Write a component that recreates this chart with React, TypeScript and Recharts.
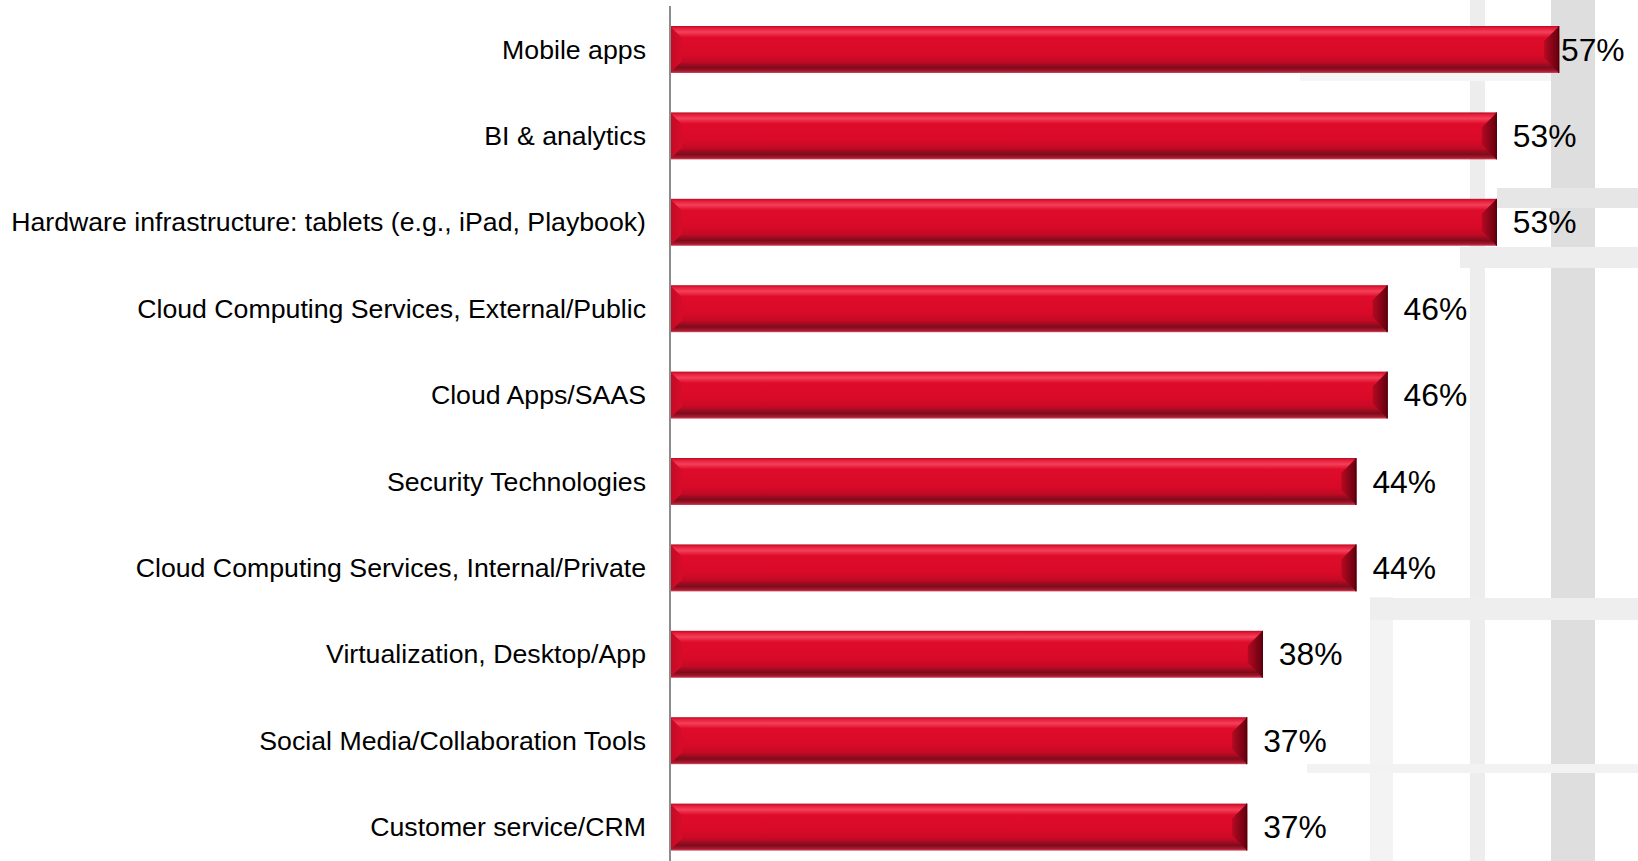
import React from "react";
import { BarChart, Bar, XAxis, YAxis, LabelList } from "recharts";

const categories = [
  "Mobile apps",
  "BI & analytics",
  "Hardware infrastructure: tablets (e.g., iPad, Playbook)",
  "Cloud Computing Services, External/Public",
  "Cloud Apps/SAAS",
  "Security Technologies",
  "Cloud Computing Services, Internal/Private",
  "Virtualization, Desktop/App",
  "Social Media/Collaboration Tools",
  "Customer service/CRM",
];
const values = [57, 53, 53, 46, 46, 44, 44, 38, 37, 37];
const xTicks = [0, 10, 20, 30, 40, 50, 60];

const data = categories.map((name, i) => ({ name, value: values[i] }));

const W = 1638;
const H = 861;
const FONT = "'Liberation Sans', Arial, Helvetica, sans-serif";

const BevelBar = (props: any) => {
  const { x, y, width, height } = props;
  if (!width || width <= 0) return null;
  const b = 15;
  const lb = 12;
  return (
    <g>
      <rect x={x} y={y} width={width} height={height} fill="url(#barGrad)" />
      <polygon
        points={`${x},${y} ${x + lb},${y + lb} ${x + lb},${y + height - lb} ${x},${y + height}`}
        fill="url(#leftGrad)"
      />
      <polygon
        points={`${x + width},${y} ${x + width - b},${y + b} ${x + width - b},${y + height - b} ${x + width},${y + height}`}
        fill="url(#rightGrad)"
      />
      <line x1={x + width - 0.5} y1={y} x2={x + width - 0.5} y2={y + height} stroke="#4a0008" strokeWidth={1} />
    </g>
  );
};

const ValueLabel = (props: any) => {
  const { x, y, width, height, value } = props;
  const end = x + width;
  const lx = Math.min(end + 16, 1561);
  return (
    <text
      x={lx}
      y={y + height / 2 + 11}
      fontSize={31.8}
      fontFamily={FONT}
      fill="#000"
      textAnchor="start"
    >
      {`${value}%`}
    </text>
  );
};

const stripes = [
  { left: 1470, top: 0, width: 15, height: 861, bg: "#ededed" },
  { left: 1551, top: 0, width: 44, height: 861, bg: "#dedede" },
  { left: 1370, top: 597, width: 23, height: 264, bg: "#f3f3f3" },
  { left: 1300, top: 73, width: 251, height: 8, bg: "#f5f5f5" },
  { left: 1497, top: 188, width: 141, height: 20, bg: "#e6e6e6" },
  { left: 1460, top: 247, width: 178, height: 21, bg: "#ededed" },
  { left: 1370, top: 598, width: 268, height: 22, bg: "#eeeeee" },
  { left: 1307, top: 764, width: 331, height: 9, bg: "#f2f2f2" },
];

export default function App() {
  return (
    <div style={{ position: "relative", width: W, height: H, overflow: "hidden", background: "#fff" }}>
      <style>{`html,body{margin:0;padding:0;overflow:hidden;background:#fff}`}</style>
      {stripes.map((s, i) => (
        <div
          key={i}
          style={{ position: "absolute", left: s.left, top: s.top, width: s.width, height: s.height, background: s.bg }}
        />
      ))}
      <div style={{ position: "absolute", left: 0, top: 0 }}>
        <BarChart
          width={W}
          height={870}
          data={data}
          layout="vertical"
          margin={{ top: 6, right: 32, bottom: 0, left: 0 }}
          barCategoryGap={0}
          style={{ fontFamily: FONT }}
        >
          <defs>
            <linearGradient id="barGrad" x1="0" y1="0" x2="0" y2="1">
              <stop offset="0%" stopColor="#b80c26" />
              <stop offset="5%" stopColor="#e61e3a" />
              <stop offset="13%" stopColor="#f4405a" />
              <stop offset="24%" stopColor="#de0c2a" />
              <stop offset="60%" stopColor="#d80a28" />
              <stop offset="76%" stopColor="#c20a25" />
              <stop offset="89%" stopColor="#7c0c1c" />
              <stop offset="96%" stopColor="#a8182e" />
              <stop offset="100%" stopColor="#d0485e" />
            </linearGradient>
            <linearGradient id="leftGrad" x1="0" y1="0" x2="1" y2="0">
              <stop offset="0%" stopColor="#c40a26" />
              <stop offset="100%" stopColor="#d60c2a" />
            </linearGradient>
            <linearGradient id="rightGrad" x1="0" y1="0" x2="1" y2="0">
              <stop offset="0%" stopColor="#b40a22" />
              <stop offset="100%" stopColor="#62000e" />
            </linearGradient>
          </defs>
          <XAxis type="number" domain={[0, 60]} ticks={xTicks} hide />
          <YAxis
            type="category"
            dataKey="name"
            width={670}
            axisLine={{ stroke: "#8c8c8c", strokeWidth: 2 }}
            tickLine={false}
            tickSize={0}
            tickMargin={24}
            tick={{ fontSize: 26.7, fill: "#000", fontFamily: FONT }}
            interval={0}
          />
          <Bar dataKey="value" barSize={47} shape={<BevelBar />} isAnimationActive={false}>
            <LabelList dataKey="value" content={<ValueLabel />} />
          </Bar>
        </BarChart>
      </div>
    </div>
  );
}
